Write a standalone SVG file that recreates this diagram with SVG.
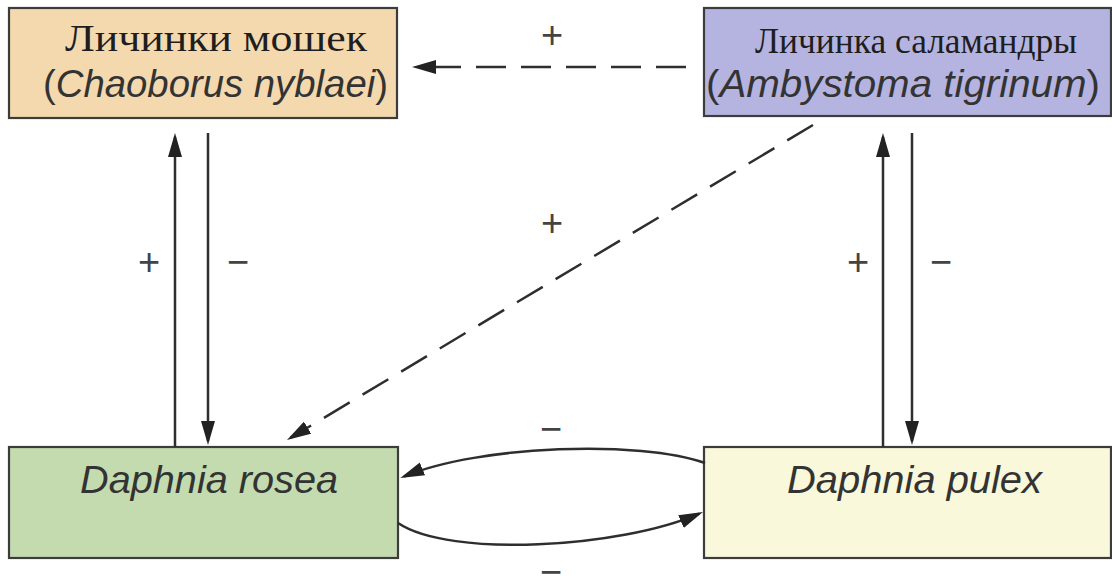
<svg xmlns="http://www.w3.org/2000/svg" width="1112" height="579" viewBox="0 0 1112 579">
  <style>
    .box { stroke: #3c3c3c; stroke-width: 2.2; }
    .ru { font-family: "Liberation Serif", "DejaVu Serif", serif; fill: #1e1e1e; }
    .lat { font-family: "Liberation Sans", Arial, sans-serif; fill: #333333; }
    .it { font-style: italic; }
    .link { fill: none; stroke: #2e2e2e; stroke-width: 2.5; }
    .dash { stroke-dasharray: 30 15; }
    .sign { font-family: "Liberation Sans", Arial, sans-serif; font-size: 38px; fill: #444444; text-anchor: middle; }
  </style>
  <defs>
    <marker id="head" viewBox="0 0 24 14" refX="20" refY="7" markerWidth="24" markerHeight="14" markerUnits="userSpaceOnUse" orient="auto">
      <path d="M0,0 L24,7 L0,14 z" fill="#222222" stroke="none"/>
    </marker>
  </defs>

  <rect width="1112" height="579" fill="#ffffff"/>

  <!-- predator: midge larvae -->
  <g id="chaoborus">
    <rect class="box" x="9" y="8" width="388" height="110" fill="#f4d8ae"/>
    <text class="ru" x="65" y="51" font-size="38" textLength="302" lengthAdjust="spacingAndGlyphs">Личинки мошек</text>
    <text class="lat" x="43" y="97" font-size="38" textLength="345" lengthAdjust="spacingAndGlyphs">(<tspan class="it">Chaoborus nyblaei</tspan>)</text>
  </g>

  <!-- predator: salamander larvae -->
  <g id="ambystoma">
    <rect class="box" x="704" y="8" width="407" height="108" fill="#b5b4e0"/>
    <text class="ru" x="755" y="53" font-size="35" textLength="322" lengthAdjust="spacingAndGlyphs">Личинка саламандры</text>
    <text class="lat" x="706" y="97" font-size="38" textLength="394" lengthAdjust="spacingAndGlyphs">(<tspan class="it">Ambystoma tigrinum</tspan>)</text>
  </g>

  <!-- prey: Daphnia rosea -->
  <g id="daphnia-rosea">
    <rect class="box" x="9" y="447" width="389" height="111" fill="#c4dbb0"/>
    <text class="lat it" x="80" y="493" font-size="39" textLength="258" lengthAdjust="spacingAndGlyphs">Daphnia rosea</text>
  </g>

  <!-- prey: Daphnia pulex -->
  <g id="daphnia-pulex">
    <rect class="box" x="704" y="447" width="407" height="111" fill="#f9f8da"/>
    <text class="lat it" x="787" y="493" font-size="39" textLength="255" lengthAdjust="spacingAndGlyphs">Daphnia pulex</text>
  </g>

  <!-- interaction arrows -->
  <g id="connectors">
    <path class="link dash" d="M686,67 L416,67" marker-end="url(#head)"/>
    <path class="link dash" d="M813,125 L290.4,437.9" marker-end="url(#head)"/>
    <path class="link" d="M175,447 L175,137" marker-end="url(#head)"/>
    <path class="link" d="M208,133 L208,441" marker-end="url(#head)"/>
    <path class="link" d="M883,447 L883,137" marker-end="url(#head)"/>
    <path class="link" d="M912,133 L912,441" marker-end="url(#head)"/>
    <path class="link" d="M705,463 C640,440 480,445 404,476.5" marker-end="url(#head)"/>
    <path class="link" d="M398,523 C450,558 620,548 699.3,513.6" marker-end="url(#head)"/>
  </g>

  <!-- effect signs -->
  <g id="signs">
    <text class="sign" x="552" y="48">+</text>
    <text class="sign" x="552" y="236">+</text>
    <text class="sign" x="149" y="275">+</text>
    <text class="sign" x="238" y="275">−</text>
    <text class="sign" x="858" y="275">+</text>
    <text class="sign" x="941" y="275">−</text>
    <text class="sign" x="551" y="442">−</text>
    <text class="sign" x="551" y="585">−</text>
  </g>
</svg>
